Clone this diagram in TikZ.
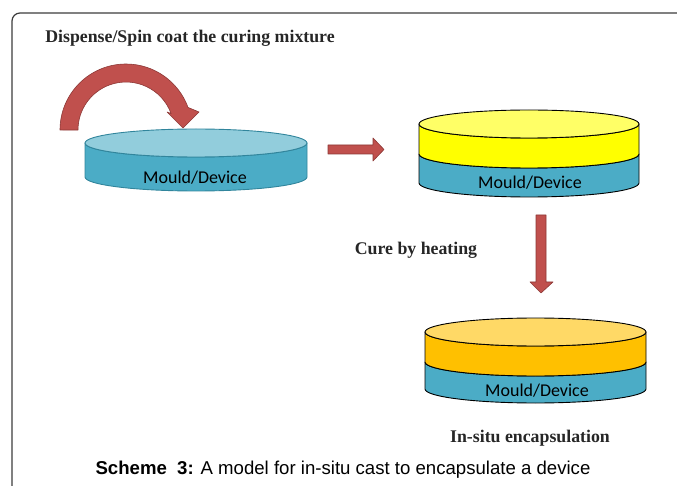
\documentclass[tikz,border=0pt]{standalone}
\usepackage{fontspec}
\setmainfont{Liberation Serif}
\newfontfamily\calfont{Carlito}
\newfontfamily\arialfont{Liberation Sans}
\usepackage{tikz}
\usetikzlibrary{positioning}
\definecolor{mouldblue}{RGB}{75, 172, 198}
\definecolor{mouldtop}{RGB}{146, 205, 220}
\definecolor{mouldedge}{RGB}{49, 133, 156}
\definecolor{lemon}{RGB}{255, 255, 0}
\definecolor{lemontop}{RGB}{255, 255, 102}
\definecolor{amber}{RGB}{255, 192, 0}
\definecolor{ambertop}{RGB}{255, 217, 102}
\definecolor{brick}{RGB}{192, 80, 77}
\definecolor{brickdark}{RGB}{140, 56, 54}
\definecolor{framegray}{RGB}{60, 60, 60}

\begin{document}
\begin{tikzpicture}[x=1pt, y=1pt,
    blockarrow/.style={fill=brick, draw=brickdark, line width=0.6pt, line join=round},
    layer/.style={line width=0.9pt, line join=round},
    steptext/.style={font=\bfseries\fontsize{17.8}{20}\selectfont, text=black!85, inner sep=0pt},
    mouldtext/.style={font=\calfont\fontsize{18}{20}\selectfont, text=black, inner sep=0pt}]
    \useasboundingbox (0,0) rectangle (677,485);
    % frame
    \draw[framegray, line width=1.2pt, rounded corners=8pt] (12,-2) -- (12,472) -- (679,472);
    % step 1: bare mould
    \filldraw[fill=mouldblue, draw=mouldedge, layer] (85,342) -- (85,308) arc[start angle=180, end angle=360, x radius=111, y radius=14]
        -- (307,342) arc[start angle=0, end angle=-180, x radius=111, y radius=14] -- cycle;
    \filldraw[fill=mouldtop, draw=mouldedge, layer] (196,342) ellipse [x radius=111, y radius=14];
    \node[mouldtext] (mould1) at (195,307) {Mould/Device};
    % dispensing arrow
    \filldraw[blockarrow] (60,355) arc[start angle=180, end angle=20, radius=66]
        -- (199,373) -- (183,357) -- (167,373) -- (171.1,371.4)
        arc[start angle=20, end angle=180, radius=48] -- cycle;
    \node[steptext] (dispense) at (190,447) {Dispense/Spin coat the curing mixture};
    % step 2: uncured layer on mould
    \filldraw[blockarrow] (328,331) -- (373,331) -- (373,324) -- (384,335.5) -- (373,347) -- (373,340) -- (328,340) -- cycle;
    \filldraw[fill=mouldblue, draw=black, layer] (419,331) -- (419,302) arc[start angle=180, end angle=360, x radius=110, y radius=14]
        -- (639,331) arc[start angle=0, end angle=-180, x radius=110, y radius=14] -- cycle;
    \filldraw[fill=lemon, draw=black, layer] (419,361) -- (419,331) arc[start angle=180, end angle=360, x radius=110, y radius=14]
        -- (639,361) arc[start angle=0, end angle=-180, x radius=110, y radius=14] -- cycle;
    \filldraw[fill=lemontop, draw=black, layer] (529,361) ellipse [x radius=110, y radius=14];
    \node[mouldtext] (mould2) at (530,302) {Mould/Device};
    % step 3: cured layer
    \filldraw[blockarrow] (536,270) -- (546,270) -- (546,203) -- (553,203) -- (541,192) -- (530,203) -- (536,203) -- cycle;
    \node[steptext] (cure) at (416,235) {Cure by heating};
    \filldraw[fill=mouldblue, draw=black, layer] (425,123) -- (425,96) arc[start angle=180, end angle=360, x radius=110.5, y radius=14]
        -- (646,123) arc[start angle=0, end angle=-180, x radius=110.5, y radius=14] -- cycle;
    \filldraw[fill=amber, draw=black, layer] (425,153) -- (425,123) arc[start angle=180, end angle=360, x radius=110.5, y radius=14]
        -- (646,153) arc[start angle=0, end angle=-180, x radius=110.5, y radius=14] -- cycle;
    \filldraw[fill=ambertop, draw=black, layer] (535.5,153) ellipse [x radius=110.5, y radius=14];
    \node[mouldtext] (mould3) at (537,94) {Mould/Device};
    \node[steptext] (encap) at (530,47) {In-situ encapsulation};
    % caption
    \node[font=\arialfont\fontsize{18.6}{20}\selectfont, inner sep=0pt] (caption) at (343,15) {\textbf{Scheme\ \ 3:} A model for in-situ cast to encapsulate a device};
\end{tikzpicture}
\end{document}
